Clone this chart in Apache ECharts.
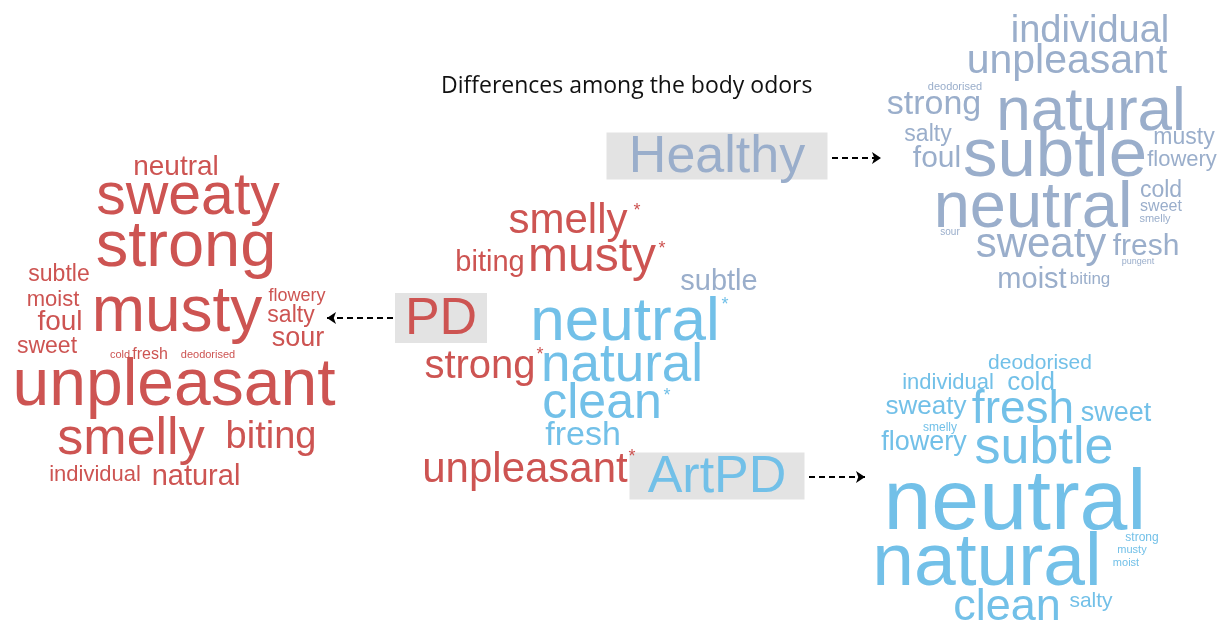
<!DOCTYPE html>
<html>
<head>
<meta charset="utf-8">
<script src="https://cdn.jsdelivr.net/npm/echarts@6/dist/echarts.min.js"></script>
<style>
  html, body { margin: 0; padding: 0; background: #fff; }
  #chart { width: 1229px; height: 621px; }
</style>
</head>
<body>
<div id="chart"></div>
<script>
// Word clouds: words and their weight (rendered as font size)
var titleText = 'Differences among the body odors';

var pdWords   = ['neutral','sweaty','strong','subtle','moist','foul','sweet','musty','flowery','salty','sour','cold','fresh','deodorised','unpleasant','smelly','biting','individual','natural'];
var pdWeights = [28, 59, 65, 23, 22, 28, 23, 64, 18, 23, 27, 11, 16, 11, 66, 52, 38, 22, 29];

var healthyWords   = ['individual','unpleasant','deodorised','strong','natural','salty','foul','subtle','musty','flowery','neutral','cold','sweet','smelly','sour','sweaty','fresh','pungent','moist','biting'];
var healthyWeights = [38, 41, 11, 34, 62, 23, 30, 69, 23, 22, 65, 23, 16, 11, 10, 42, 30, 9, 29, 17];

var artWords   = ['deodorised','individual','cold','sweaty','fresh','sweet','smelly','flowery','subtle','neutral','strong','musty','moist','natural','clean','salty'];
var artWeights = [21, 22, 26, 26, 46, 27, 12, 27, 52, 86, 12, 11, 11, 75, 45, 21];

// Differences in the middle: word, group it belongs to, weight
var diffWords   = ['smelly','biting','musty','subtle','neutral','strong','natural','clean','fresh','unpleasant','*','*','*','*','*','*'];
var diffGroups  = ['pd','pd','pd','healthy','art','pd','art','art','art','pd','pd','pd','art','pd','art','pd'];
var diffWeights = [42, 29, 48, 29, 62, 40, 53, 50, 34, 42, 18, 18, 18, 18, 18, 18];

var groupLabels = ['Healthy', 'PD', 'ArtPD'];

// layout: [centre x, baseline y] in page pixels
var pdLayout = [[176,175],[188,214],[186,266],[59,281],[53,306],[60,330],[47,353],[177,331],[297,301],[291,322],[298,346],[120,358],[150,359],[208,358],[174,405],[131,454],[271,448],[95,481],[196,485]];
var healthyLayout = [[1090,42],[1067,73],[955,90],[934,114],[1091,130],[928,141],[937,167],[1055,176],[1184,144],[1182,166],[1033,227],[1161,197],[1161,211],[1155,222],[950,235],[1041,257],[1146,255],[1138,264],[1032,288],[1090,284]];
var artLayout = [[1040,369],[948,389],[1031,390],[926,414],[1023,423],[1116,421],[940,431],[924,450],[1044,463],[1015,529],[1142,541],[1132,553],[1126,566],[987,585],[1007,620],[1091,607]];
var diffLayout = [[568,233],[490,271],[592,271],[719,290],[625,340],[480,378],[622,381],[602,418],[583,445],[525,482],[637,216],[662,254],[725,310],[540,360],[667,401],[632,462]];
var boxLayout = [[717,156,221,47],[441,318,92,50],[717,476,175,47]];
var arrowLayout = [[[832,158],[881,158]],[[393,318],[327,318]],[[809,477],[865,477]]];

var colors = { pd: '#cd5452', healthy: '#9aaecb', art: '#72c0e8' };
var boxColor = ['#9aaecb', '#cd5452', '#72c0e8'];
var FONT = '"Liberation Sans", Arial, sans-serif';

function cloudData(words, weights, layout, groups, color) {
  return words.map(function (w, i) {
    var fs = weights[i];
    var c = groups ? colors[groups[i]] : color;
    return {
      name: w,
      value: [layout[i][0], layout[i][1] - 0.28 * fs],
      label: { fontSize: fs, color: c }
    };
  });
}

function cloudSeries(name, data) {
  return {
    name: name,
    type: 'scatter',
    silent: true,
    symbolSize: 0,
    z: 3,
    itemStyle: { opacity: 1 },
    label: {
      show: true,
      position: 'inside',
      formatter: '{b}',
      fontFamily: FONT,
      align: 'center',
      verticalAlign: 'middle'
    },
    data: data
  };
}

var chart = echarts.init(document.getElementById('chart'));

var option = {
  backgroundColor: '#ffffff',
  animation: false,
  title: {
    text: titleText,
    left: 436,
    top: 70,
    textStyle: { fontFamily: '"Open Sans", sans-serif', fontWeight: 'normal', fontSize: 23, color: '#111' }
  },
  grid: { left: 0, right: 0, top: 0, bottom: 0 },
  xAxis: { type: 'value', min: 0, max: 1229, show: false },
  yAxis: { type: 'value', min: 0, max: 621, inverse: true, show: false },
  series: [
    {
      name: 'boxes',
      type: 'scatter',
      silent: true,
      symbol: 'rect',
      z: 2,
      itemStyle: { color: '#e3e3e3', opacity: 1 },
      label: {
        show: true,
        position: 'inside',
        formatter: '{b}',
        fontFamily: FONT,
        fontSize: 52,
        align: 'center',
        verticalAlign: 'middle'
      },
      data: groupLabels.map(function (g, i) {
        var b = boxLayout[i];
        return {
          name: g,
          value: [b[0], b[1]],
          symbolSize: [b[2], b[3]],
          label: { color: boxColor[i], offset: [0, 2] }
        };
      })
    },
    {
      name: 'arrows',
      type: 'lines',
      coordinateSystem: 'cartesian2d',
      silent: true,
      symbol: ['none', 'arrow'],
      symbolSize: [0, 9],
      lineStyle: { color: '#000', width: 2, type: [6, 4], opacity: 1 },
      data: arrowLayout.map(function (c) { return { coords: c }; })
    },
    cloudSeries('PD', cloudData(pdWords, pdWeights, pdLayout, null, colors.pd)),
    cloudSeries('Healthy', cloudData(healthyWords, healthyWeights, healthyLayout, null, colors.healthy)),
    cloudSeries('ArtPD', cloudData(artWords, artWeights, artLayout, null, colors.art)),
    cloudSeries('Differences', cloudData(diffWords, diffWeights, diffLayout, diffGroups))
  ]
};

chart.setOption(option);
</script>
</body>
</html>
